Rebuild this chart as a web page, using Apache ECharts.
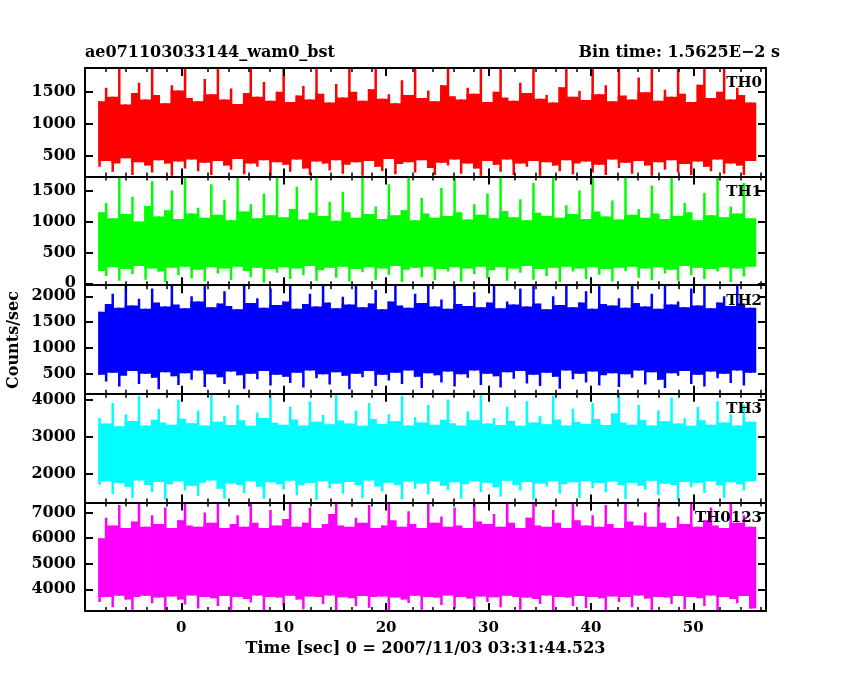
<!DOCTYPE html>
<html lang="en">
<head>
<meta charset="UTF-8" />
<title>ae071103033144_wam0_bst</title>
<script src="https://cdn.jsdelivr.net/npm/echarts@6.0.0/dist/echarts.min.js"></script>
<style>
  html, body { margin: 0; padding: 0; background: #fff; }
  #chart { width: 850px; height: 680px; }
</style>
</head>
<body>
<div id="chart"></div>
<script>
// light curve drawn as per-bin min/max envelopes, bins of 0.64 s starting at -8 s
const binStart = -8.1;
const binWidth = 0.642;
const panelNames = ['TH0', 'TH1', 'TH2', 'TH3', 'TH0123'];
const panelColors = ['#ff0000', '#00ff00', '#0000ff', '#00ffff', '#ff00ff'];
const yRanges = [[175, 1870], [-30, 1725], [110, 2215], [1230, 4150], [3150, 7400]];
const yTicks = [[500, 1000, 1500], [0, 500, 1000, 1500], [500, 1000, 1500, 2000], [2000, 3000, 4000], [4000, 5000, 6000, 7000]];

const th0Hi = [1350,1560,1420,1870,1300,1480,1640,1380,1870,1450,1320,1600,1520,1870,1400,1350,1700,1460,1870,1380,
  1550,1310,1480,1870,1420,1650,1360,1500,1870,1340,1440,1590,1380,1870,1470,1330,1620,1410,1870,1500,
  1360,1540,1870,1390,1460,1320,1680,1450,1870,1400,1520,1350,1600,1870,1430,1380,1560,1470,1870,1340,
  1500,1870,1410,1360,1640,1480,1870,1390,1450,1330,1570,1870,1420,1510,1370,1870,1460,1600,1350,1870,
  1440,1380,1720,1490,1870,1360,1530,1420,1870,1470,1340,1610,1870,1400,1500,1870,1380,1560,1450,1330];
const th0Lo = [330,420,250,380,460,200,400,350,240,430,380,190,410,300,440,260,390,200,420,350,
  280,450,210,380,330,430,190,400,360,250,440,300,200,410,380,270,430,220,360,400,
  190,420,330,260,450,210,370,400,240,430,310,200,390,350,440,220,380,300,190,420,
  360,250,440,200,380,330,420,190,400,350,260,430,210,380,410,240,360,200,440,310,
  390,220,420,350,190,400,280,430,240,370,200,410,330,260,440,220,380,350,200,420];

const th1Hi = [1150,1300,1050,1720,1120,1400,1000,1250,1650,1080,1180,1500,1040,1720,1130,1220,1060,1600,1110,1350,
  1020,1720,1160,1280,1050,1450,1100,1720,1070,1200,1560,1030,1140,1720,1090,1320,1010,1480,1150,1060,
  1720,1120,1240,1040,1600,1100,1180,1720,1020,1380,1130,1060,1540,1090,1720,1150,1030,1280,1110,1450,
  1050,1720,1170,1070,1360,1020,1620,1140,1090,1720,1060,1260,1120,1500,1040,1720,1160,1080,1340,1030,
  1720,1110,1200,1060,1580,1130,1040,1720,1090,1300,1150,1020,1460,1100,1720,1070,1240,1130,1620,1050];
const th1Lo = [200,120,260,40,230,150,280,60,240,190,20,250,130,270,80,220,30,260,160,240,
  50,270,200,100,250,10,230,170,260,70,240,130,280,40,210,250,90,270,30,230,
  180,260,60,240,140,280,20,220,250,100,270,50,230,190,260,30,240,150,270,80,
  210,260,40,240,170,280,60,230,120,250,20,270,190,240,70,260,140,230,30,250,
  200,270,90,240,50,260,160,220,40,280,130,250,70,230,190,260,20,240,110,270];

const th2Hi = [1700,1850,2050,1780,2215,1820,1950,1760,2150,1880,1800,2215,1840,1770,2000,1900,2215,1790,1860,2100,
  1810,1750,2215,1870,1960,1780,2150,1830,1900,2215,1760,1850,2050,1800,2215,1880,1770,1990,1840,2215,
  1790,1860,2120,1750,1900,2215,1820,1780,2050,1870,2215,1800,1940,1760,2215,1850,1810,2080,1790,1880,
  2215,1770,1900,1840,2150,1800,2215,1860,1750,2000,1830,2215,1790,1880,2100,1760,2215,1850,1820,1960,
  1780,2215,1870,1800,2050,1760,2215,1840,1900,1790,2150,1820,2215,1770,1880,2000,1810,2215,1860,1780];
const th2Lo = [480,350,520,250,460,550,300,500,420,200,530,450,280,510,380,560,240,490,430,300,
  540,470,210,500,390,550,270,480,440,320,520,230,560,410,490,290,530,460,200,500,
  430,550,260,480,370,520,300,560,440,220,510,470,330,540,250,490,420,560,280,500,
  450,230,530,400,550,310,480,260,520,440,210,560,390,500,330,540,270,470,510,240,
  490,420,560,290,530,380,220,510,460,550,300,480,250,540,410,500,320,560,270,520];

const th3Hi = [3500,3350,3900,3280,3600,3420,4100,3300,3450,3750,3380,3320,4000,3480,3360,3700,3300,4150,3400,3550,
  3310,3850,3440,3290,3650,3500,4100,3370,3320,3800,3460,3300,3950,3400,3580,3330,4150,3430,3350,3700,
  3290,3900,3470,3340,3600,3410,4100,3300,3520,3380,3850,3320,3450,4000,3360,3300,3680,3440,4150,3350,
  3500,3310,3800,3420,3290,3950,3380,3560,3330,4100,3460,3300,3750,3400,3340,3900,3470,3310,3620,4150,
  3380,3320,3850,3450,3300,3700,3410,4050,3350,3500,3290,3800,3440,3320,3950,3380,3600,3300,3850,3400];
const th3Lo = [1700,1800,1450,1750,1650,1350,1820,1700,1500,1780,1300,1720,1800,1550,1680,1400,1760,1820,1600,1330,
  1740,1700,1480,1800,1650,1320,1770,1720,1580,1810,1420,1690,1750,1300,1800,1620,1740,1460,1780,1700,
  1350,1820,1660,1520,1760,1700,1310,1790,1600,1740,1440,1800,1680,1560,1770,1330,1720,1800,1500,1760,
  1640,1380,1810,1700,1540,1780,1300,1740,1660,1800,1460,1720,1770,1350,1800,1610,1750,1500,1790,1700,
  1320,1760,1680,1580,1810,1420,1740,1700,1300,1780,1640,1760,1480,1800,1690,1350,1770,1720,1550,1800];

const th4Hi = [6000,6800,6500,7300,6400,6650,7400,6450,6900,6550,7200,6400,6700,7400,6500,6450,7000,6600,7350,6400,
  6550,6900,6450,7400,6600,6400,7100,6500,6750,7400,6450,6600,7200,6400,6550,6950,7400,6500,6450,6800,
  6600,7300,6400,6500,7400,6700,6450,7050,6550,6400,7400,6600,6850,6450,7200,6500,6400,7400,6650,6550,
  6950,6450,7350,6600,6400,6800,7400,6500,6450,7100,6600,6400,7400,6700,6500,6900,6450,7300,6550,6400,
  7400,6650,6500,7000,6450,7400,6600,6400,6850,6550,7400,6450,6700,7200,6500,6400,7400,6600,6900,6450];
const th4Lo = [3500,3700,3300,3750,3600,3200,3700,3750,3450,3680,3150,3720,3600,3400,3760,3250,3700,3650,3350,3740,
  3200,3700,3620,3480,3760,3150,3700,3680,3300,3750,3600,3220,3720,3700,3420,3760,3180,3690,3650,3350,
  3740,3280,3700,3720,3150,3680,3600,3460,3750,3200,3700,3680,3380,3760,3240,3700,3640,3150,3720,3500,
  3690,3300,3750,3700,3200,3680,3620,3420,3760,3150,3700,3680,3350,3740,3260,3700,3650,3180,3720,3500,
  3700,3300,3760,3640,3150,3700,3680,3420,3740,3220,3700,3650,3350,3760,3180,3700,3620,3450,3740,3250];

const highs = [th0Hi, th1Hi, th2Hi, th3Hi, th4Hi];
const lows = [th0Lo, th1Lo, th2Lo, th3Lo, th4Lo];

const chart = echarts.init(document.getElementById('chart'));
const font = 'DejaVu Serif';
const top0 = 68, panelH = 108.6;
const plain = v => String(v);

const grid = [], xAxis = [], yAxis = [], series = [], graphic = [];
panelNames.forEach((name, i) => {
  grid.push({ left: 85, right: 84, top: top0 + i * panelH, height: panelH });
  const isLast = i === panelNames.length - 1;
  const axisBase = {
    type: 'value', min: -9.4, max: 57.1, gridIndex: i, z: 10,
    splitLine: { show: false },
    axisLine: { show: true, onZero: false, lineStyle: { color: '#000', width: 2 } },
    axisTick: { inside: true, length: 8, lineStyle: { color: '#000', width: 2 }, customValues: [0, 10, 20, 30, 40, 50] },
    minorTick: { show: true, splitNumber: 5, length: 4, lineStyle: { color: '#000', width: 1.5 } },
    interval: 10
  };
  xAxis.push(Object.assign({}, axisBase, {
    position: 'bottom',
    axisLabel: { show: isLast, customValues: [0, 10, 20, 30, 40, 50], color: '#000', fontFamily: font, fontWeight: 'bold', fontSize: 15, margin: 10 },
    name: isLast ? 'Time [sec] 0 = 2007/11/03 03:31:44.523' : '',
    nameLocation: 'middle', nameGap: 30,
    nameTextStyle: { color: '#000', fontFamily: font, fontWeight: 'bold', fontSize: 16 }
  }));
  xAxis.push(Object.assign({}, axisBase, { position: 'top', axisLabel: { show: false } }));
  const yBase = {
    type: 'value', gridIndex: i, min: yRanges[i][0], max: yRanges[i][1], z: 10,
    splitLine: { show: false },
    axisLine: { show: true, onZero: false, lineStyle: { color: '#000', width: 2 } },
    axisTick: { inside: true, length: 8, customValues: yTicks[i], lineStyle: { color: '#000', width: 2 } },
    minorTick: { show: false }
  };
  yAxis.push(Object.assign({}, yBase, {
    position: 'left',
    axisLabel: { customValues: yTicks[i], formatter: plain, color: '#000', fontFamily: font, fontWeight: 'bold', fontSize: 16, margin: 9 }
  }));
  yAxis.push(Object.assign({}, yBase, { position: 'right', axisLabel: { show: false } }));

  const hi = highs[i], lo = lows[i];
  const data = hi.map((h, k) => [binStart + k * binWidth, lo[k], h]);
  series.push({
    type: 'custom', xAxisIndex: 2 * i, yAxisIndex: 2 * i, clip: true, silent: true,
    data: data,
    renderItem: (params, api) => {
      const k = params.dataIndex;
      const n = Math.min(k + 1, hi.length - 1);
      const cs = params.coordSys;
      const clipBox = { x: cs.x, y: cs.y, width: cs.width, height: cs.height };
      // spike: full min..max of this bin
      const s0 = api.coord([api.value(0), api.value(1)]);
      const s1 = api.coord([api.value(0), api.value(2)]);
      // core: overlap of this bin and the next one
      const c0 = api.coord([api.value(0), Math.max(lo[k], lo[n])]);
      const c1 = api.coord([api.value(0) + binWidth, Math.min(hi[k], hi[n])]);
      return {
        type: 'group',
        children: [
          { type: 'rect', shape: echarts.graphic.clipRectByRect({ x: s0[0], y: s1[1], width: 2.5, height: s0[1] - s1[1] }, clipBox), style: { fill: panelColors[i] } },
          { type: 'rect', shape: echarts.graphic.clipRectByRect({ x: c0[0], y: c1[1], width: c1[0] - c0[0] + 0.5, height: c0[1] - c1[1] }, clipBox), style: { fill: panelColors[i] } }
        ]
      };
    }
  });
  graphic.push({
    type: 'text', right: 88, top: top0 + i * panelH + 8, z: 100,
    style: { text: name, fill: '#000', font: 'bold 15px "DejaVu Serif"' }
  });
});

graphic.push({ type: 'text', left: 85, top: 45, style: { text: 'ae071103033144_wam0_bst', fill: '#000', font: 'bold 16px "DejaVu Serif"' } });
graphic.push({ type: 'text', right: 70, top: 45, style: { text: 'Bin time: 1.5625E\u22122 s', fill: '#000', font: 'bold 16px "DejaVu Serif"' } });
graphic.push({ type: 'text', rotation: Math.PI / 2, x: 14, y: 340,
  style: { text: 'Counts/sec', fill: '#000', font: 'bold 16px "DejaVu Serif"', align: 'center', verticalAlign: 'middle' } });

chart.setOption({ animation: false, backgroundColor: '#fff', grid, xAxis, yAxis, series, graphic });
</script>
</body>
</html>
